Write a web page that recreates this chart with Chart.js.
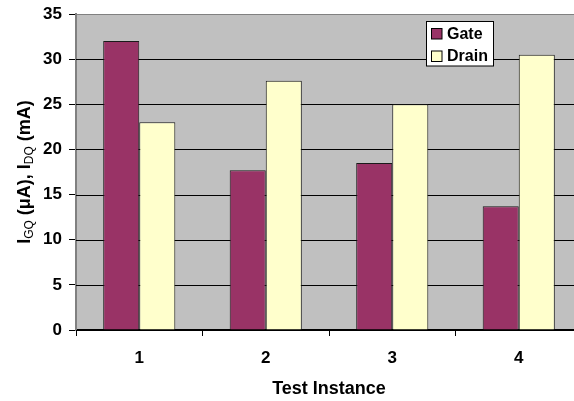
<!DOCTYPE html>
<html>
<head>
<meta charset="utf-8">
<script src="https://cdn.jsdelivr.net/npm/chart.js@4/dist/chart.umd.min.js"></script>
<style>
  html, body { margin: 0; padding: 0; background: #fff; overflow: hidden; width: 574px; height: 401px; }
  #wrap { width: 582px; height: 401px; }
</style>
</head>
<body>
<div id="wrap"><canvas id="c" width="582" height="401"></canvas></div>
<script>
const categories = ['1', '2', '3', '4'];
const gateValues = [32, 17.7, 18.5, 13.7];
const drainValues = [23, 27.6, 25, 30.5];
const seriesNames = ['Gate', 'Drain'];
const yTicks = [0, 5, 10, 15, 20, 25, 30, 35];
const xTitle = 'Test Instance';
// y-axis title segments: [text, isSubscript]
const yTitleParts = [['I', false], ['GQ', true], [' (\u03BCA), I', false], ['DQ', true], [' (mA)', false]];

const FONT = '"Liberation Sans", Arial, sans-serif';

const plotBg = {
  id: 'plotBg',
  beforeDraw(chart) {
    const {ctx, chartArea: a} = chart;
    ctx.save();
    ctx.fillStyle = '#C0C0C0';
    ctx.fillRect(a.left, a.top, a.right - a.left, a.bottom - a.top);
    ctx.restore();
  },
  beforeDatasetsDraw(chart) {
    // horizontal gridlines through the y scale's own tick positions
    const {ctx, chartArea: a, scales: {y}} = chart;
    ctx.save();
    ctx.lineWidth = 1;
    y.ticks.forEach(t => {
      const py = Math.round(y.getPixelForValue(t.value)) + 0.5;
      ctx.strokeStyle = t.value === 35 ? '#808080' : '#000';
      ctx.beginPath();
      ctx.moveTo(a.left, py);
      ctx.lineTo(a.right, py);
      ctx.stroke();
    });
    ctx.restore();
  }
};

const yTitle = {
  id: 'yTitle',
  afterDraw(chart) {
    const {ctx, chartArea: a} = chart;
    const mainFont = 'bold 18px ' + FONT;
    const subFont = '12px ' + FONT;
    ctx.save();
    let total = 0;
    yTitleParts.forEach(([t, sub]) => { ctx.font = sub ? subFont : mainFont; total += ctx.measureText(t).width; });
    ctx.translate(23, (a.top + a.bottom) / 2);
    ctx.rotate(-Math.PI / 2);
    ctx.fillStyle = '#000';
    ctx.textBaseline = 'alphabetic';
    let x = -total / 2;
    yTitleParts.forEach(([t, sub]) => {
      ctx.font = sub ? subFont : mainFont;
      ctx.fillText(t, x, sub ? 10 : 6.5);
      x += ctx.measureText(t).width;
    });
    ctx.restore();
  }
};

const boxLegend = {
  id: 'boxLegend',
  afterDatasetsDraw(chart) {
    const {ctx} = chart;
    ctx.save();
    ctx.fillStyle = '#fff';
    ctx.fillRect(426.5, 21.5, 67, 44.5);
    ctx.strokeStyle = '#000';
    ctx.lineWidth = 1;
    ctx.strokeRect(426.5, 21.5, 67, 44.5);
    ctx.font = 'bold 16px ' + FONT;
    ctx.textBaseline = 'middle';
    chart.data.datasets.forEach((ds, i) => {
      const y = 28.5 + i * 22.5;
      ctx.fillStyle = ds.backgroundColor;
      ctx.fillRect(431.5, y, 10.5, 10.5);
      ctx.strokeStyle = '#000';
      ctx.strokeRect(431.5, y, 10.5, 10.5);
      ctx.fillStyle = '#000';
      ctx.fillText(ds.label, 447, y + 6);
    });
    ctx.restore();
  }
};

new Chart(document.getElementById('c'), {
  type: 'bar',
  data: {
    labels: categories,
    datasets: [
      { label: seriesNames[0], data: gateValues, backgroundColor: '#993366', borderColor: '#1a1a1a', borderWidth: 1, borderSkipped: 'bottom' },
      { label: seriesNames[1], data: drainValues, backgroundColor: '#FFFFCC', borderColor: '#1a1a1a', borderWidth: 1, borderSkipped: 'bottom' }
    ]
  },
  options: {
    responsive: false,
    animation: false,
    devicePixelRatio: 1,
    layout: { padding: { top: 14, left: 0, right: 0, bottom: 0 } },
    datasets: { bar: { categoryPercentage: 0.57, barPercentage: 1 } },
    plugins: { legend: { display: false }, tooltip: { enabled: false } },
    scales: {
      x: {
        grid: { display: true, drawOnChartArea: false, drawTicks: true, tickLength: 6, tickColor: '#000', offset: true },
        border: { display: true, color: '#000', width: 1.5 },
        ticks: { color: '#000', font: { family: FONT, size: 17, weight: 'bold' }, padding: 12, maxRotation: 0 },
        title: { display: true, text: xTitle, color: '#000', font: { family: FONT, size: 18, weight: 'bold' }, padding: { top: 0, bottom: 1 } },
        afterFit(scale) { scale.height = 71; scale.paddingLeft = 0; scale.paddingRight = 0; }
      },
      y: {
        min: 0, max: 35,
        afterBuildTicks(scale) { scale.ticks = yTicks.map(v => ({ value: v })); },
        grid: { drawOnChartArea: false, drawTicks: true, tickLength: 7, tickColor: '#000' },
        border: { display: true, color: '#808080', width: 2 },
        ticks: { color: '#000', font: { family: FONT, size: 17, weight: 'bold' }, padding: 7 },
        afterFit(scale) { scale.width = 76; scale.paddingTop = 0; scale.paddingBottom = 0; }
      }
    }
  },
  plugins: [plotBg, yTitle, boxLegend]
});
</script>
</body>
</html>
